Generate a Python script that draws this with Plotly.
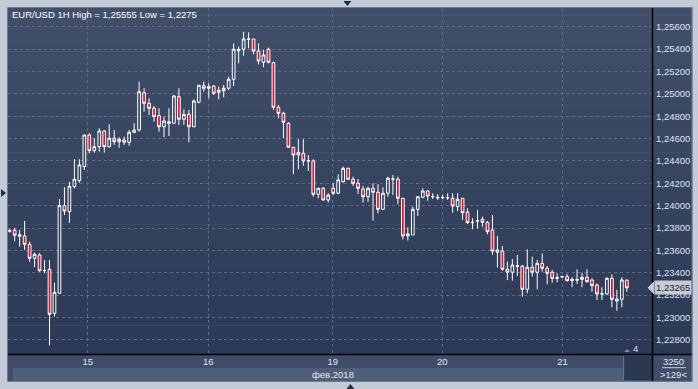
import plotly.graph_objects as go

# ---------------- data (EUR/USD 1H) ----------------
open_ = [1.23772,1.23780,1.23726,1.23729,1.23654,1.23529,1.23559,1.23418,1.23431,1.23037,
         1.23216,1.24000,1.23946,1.24170,1.24223,1.24349,1.24632,1.24492,1.24527,1.24668,
         1.24527,1.24603,1.24572,1.24587,1.24567,1.24656,1.24677,1.25010,1.24916,1.24871,
         1.24805,1.24706,1.24751,1.24737,1.24975,1.24773,1.24817,1.24706,1.24925,1.25073,
         1.25050,1.25070,1.25014,1.25028,1.25050,1.25130,1.25386,1.25399,1.25491,1.25491,
         1.25383,1.25282,1.25399,1.25279,1.24880,1.24826,1.24737,1.24522,1.24453,1.24468,
         1.24400,1.24400,1.24102,1.24155,1.24051,1.24155,1.24111,1.24214,1.24334,1.24236,
         1.24200,1.24149,1.24080,1.24155,1.24120,1.23967,1.24111,1.24240,1.24236,1.24066,
         1.23729,1.23738,1.23967,1.24075,1.24131,1.24080,1.24075,1.24071,1.24073,1.24066,
         1.23991,1.24066,1.23941,1.23848,1.23862,1.23878,1.23851,1.23782,1.23583,1.23594,
         1.23431,1.23404,1.23458,1.23460,1.23252,1.23449,1.23404,1.23484,1.23440,1.23404,
         1.23350,1.23362,1.23365,1.23329,1.23338,1.23341,1.23359,1.23335,1.23290,1.23210,
         1.23210,1.23350,1.23147,1.23162,1.23335]
high = [1.23790,1.23800,1.23782,1.23863,1.23678,1.23579,1.23574,1.23514,1.23514,1.23311,
        1.24060,1.24164,1.24214,1.24415,1.24415,1.24632,1.24647,1.24603,1.24692,1.24677,
        1.24728,1.24677,1.24612,1.24617,1.24677,1.24737,1.25109,1.25050,1.24960,1.24891,
        1.24871,1.24796,1.24871,1.24990,1.25050,1.24862,1.24856,1.24951,1.25077,1.25109,
        1.25095,1.25079,1.25064,1.25079,1.25154,1.25452,1.25422,1.25555,1.25550,1.25491,
        1.25452,1.25392,1.25413,1.25288,1.24900,1.24840,1.24746,1.24522,1.24594,1.24594,
        1.24453,1.24415,1.24161,1.24166,1.24111,1.24200,1.24281,1.24349,1.24340,1.24259,
        1.24239,1.24176,1.24170,1.24200,1.24191,1.24164,1.24259,1.24274,1.24259,1.24066,
        1.23806,1.23991,1.24086,1.24155,1.24140,1.24111,1.24102,1.24095,1.24111,1.24111,
        1.24111,1.24066,1.23976,1.23887,1.23961,1.23901,1.23863,1.23916,1.23729,1.23639,
        1.23499,1.23523,1.23559,1.23469,1.23610,1.23544,1.23514,1.23574,1.23460,1.23425,
        1.23395,1.23372,1.23389,1.23359,1.23431,1.23400,1.23431,1.23350,1.23305,1.23270,
        1.23359,1.23386,1.23246,1.23359,1.23335]
low = [1.23758,1.23681,1.23633,1.23603,1.23499,1.23449,1.23409,1.23395,1.22750,1.23007,
       1.23216,1.23916,1.23848,1.24155,1.24205,1.24319,1.24468,1.24474,1.24483,1.24474,
       1.24518,1.24543,1.24518,1.24543,1.24536,1.24647,1.24662,1.24840,1.24811,1.24751,
       1.24662,1.24612,1.24623,1.24737,1.24722,1.24722,1.24567,1.24701,1.24916,1.25019,
       1.24960,1.24990,1.24951,1.24969,1.25035,1.25070,1.25273,1.25341,1.25408,1.25354,
       1.25264,1.25238,1.25273,1.24856,1.24781,1.24603,1.24518,1.24281,1.24325,1.24357,
       1.24310,1.24080,1.24066,1.24044,1.24027,1.24095,1.24102,1.24205,1.24230,1.24176,
       1.24104,1.24027,1.24035,1.23866,1.23932,1.23961,1.24080,1.24095,1.24012,1.23699,
       1.23687,1.23738,1.23908,1.24066,1.24044,1.24060,1.24051,1.24057,1.24051,1.23937,
       1.23952,1.23872,1.23836,1.23789,1.23797,1.23812,1.23744,1.23559,1.23445,1.23418,
       1.23335,1.23329,1.23371,1.23186,1.23216,1.23365,1.23252,1.23409,1.23297,1.23311,
       1.23315,1.23356,1.23320,1.23270,1.23299,1.23270,1.23311,1.23230,1.23156,1.23156,
       1.23201,1.23091,1.23060,1.23091,1.23230]
close = [1.23776,1.23735,1.23740,1.23654,1.23529,1.23565,1.23418,1.23420,1.23028,1.23225,
         1.24000,1.23952,1.24173,1.24236,1.24364,1.24632,1.24492,1.24527,1.24668,1.24527,
         1.24603,1.24572,1.24594,1.24567,1.24656,1.24677,1.25019,1.24916,1.24871,1.24796,
         1.24706,1.24757,1.24737,1.24981,1.24773,1.24817,1.24706,1.24936,1.25077,1.25050,
         1.25064,1.25005,1.25032,1.25050,1.25130,1.25399,1.25399,1.25491,1.25488,1.25383,
         1.25294,1.25348,1.25282,1.24880,1.24826,1.24746,1.24522,1.24453,1.24477,1.24400,
         1.24402,1.24102,1.24155,1.24051,1.24095,1.24111,1.24230,1.24334,1.24236,1.24200,
         1.24155,1.24080,1.24155,1.24120,1.23967,1.24111,1.24245,1.24238,1.24066,1.23729,
         1.23747,1.23967,1.24080,1.24131,1.24086,1.24082,1.24071,1.24073,1.24071,1.23997,
         1.24057,1.23937,1.23848,1.23851,1.23866,1.23851,1.23767,1.23594,1.23603,1.23431,
         1.23404,1.23469,1.23462,1.23252,1.23449,1.23404,1.23484,1.23440,1.23395,1.23350,
         1.23356,1.23365,1.23329,1.23341,1.23335,1.23359,1.23320,1.23284,1.23210,1.23212,
         1.23350,1.23162,1.23165,1.23335,1.23265]
candle_index = list(range(len(close)))

day_labels = ["15", "16", "19", "20", "21"]
day_tick_pos = [15.7, 39.9, 64.9, 86.9, 111.1]
month_label = "фев.2018"
price_ticks = [1.228, 1.230, 1.232, 1.234, 1.236, 1.238, 1.240, 1.242,
               1.244, 1.246, 1.248, 1.250, 1.252, 1.254, 1.256]
title_text = "EUR/USD 1H High = 1,25555 Low = 1,2275"

# ---------------- geometry helpers (pixels -> paper) ----------------
W, H = 698, 389
L, R, T, B = 8, 655, 8, 354


def px(x):
    return (x - L) / (R - L)


def py(y):
    return (B - y) / (B - T)


FONT = "Liberation Sans, Arial, sans-serif"

fig = go.Figure()
fig.add_trace(go.Candlestick(
    x=candle_index, open=open_, high=high, low=low, close=close,
    increasing=dict(line=dict(color="#ffffff", width=1), fillcolor="rgba(0,0,0,0)"),
    decreasing=dict(line=dict(color="#ffffff", width=1), fillcolor="#e5102d"),
    whiskerwidth=0, hoverinfo="skip", showlegend=False,
))

shapes = []
# gradient background of plot + right axis panel
n = 48
top_c = (65, 79, 106)
bot_c = (43, 57, 86)
for i in range(n):
    t = (i + 0.5) / n
    c = tuple(int(round(top_c[k] + (bot_c[k] - top_c[k]) * t)) for k in range(3))
    y0 = T + (B - T) * i / n
    y1 = T + (B - T) * (i + 1) / n + 0.6
    shapes.append(dict(type="rect", xref="paper", yref="paper", layer="below",
                       x0=px(8), x1=px(695), y0=py(y1), y1=py(y0),
                       fillcolor="rgb(%d,%d,%d)" % c, line=dict(width=0)))
# bottom panel
shapes.append(dict(type="rect", xref="paper", yref="paper", layer="below",
                   x0=px(8), x1=px(695), y0=py(381), y1=py(354),
                   fillcolor="#3f4d68", line=dict(width=0)))
shapes.append(dict(type="rect", xref="paper", yref="paper", layer="below",
                   x0=px(13), x1=px(626), y0=py(381), y1=py(368),
                   fillcolor="#4f5e79", line=dict(width=0)))
shapes.append(dict(type="rect", xref="paper", yref="paper", layer="below",
                   x0=px(627), x1=px(655), y0=py(380), y1=py(356),
                   fillcolor="#2b3852", line=dict(width=0)))
shapes.append(dict(type="line", xref="paper", yref="paper", layer="below",
                   x0=px(626.5), x1=px(626.5), y0=py(380), y1=py(356),
                   line=dict(color="#6f7a8c", width=1)))
# outer border
shapes.append(dict(type="rect", xref="paper", yref="paper", layer="above",
                   x0=px(7.5), x1=px(695.5), y0=py(381.5), y1=py(7.5),
                   line=dict(color="#727b8a", width=1)))
# axis black lines
shapes.append(dict(type="line", xref="paper", yref="paper", layer="above",
                   x0=px(8), x1=px(695), y0=py(354.5), y1=py(354.5),
                   line=dict(color="#000000", width=1.5)))
shapes.append(dict(type="line", xref="paper", yref="paper", layer="above",
                   x0=px(655.5), x1=px(655.5), y0=py(381), y1=py(8),
                   line=dict(color="#000000", width=1.5)))
# separator in bottom-right box
shapes.append(dict(type="line", xref="paper", yref="paper", layer="above",
                   x0=px(665), x1=px(689), y0=py(367.7), y1=py(367.7),
                   line=dict(color="#c9d3e2", width=1)))
# current price pointer (arrow part of the label)
last = close[-1]
dy = 0.00058
shapes.append(dict(type="path", xref="paper", yref="y", layer="above",
                   path="M %f %f L %f %f L %f %f Z" % (px(650.5), last, px(657), last + dy, px(657), last - dy),
                   fillcolor="#c6cbd4", line=dict(width=0)))
# little navigation triangles on the frame
def tri(points, color="#1f2b42"):
    p = "M " + " L ".join("%f %f" % (px(a), py(b)) for a, b in points) + " Z"
    return dict(type="path", xref="paper", yref="paper", layer="above",
                path=p, fillcolor=color, line=dict(width=0))

shapes.append(tri([(345, 1), (353, 1), (349, 6)]))
shapes.append(tri([(1, 189), (1, 197), (6, 193)]))
shapes.append(tri([(348, 389), (356, 389), (352, 384)]))
shapes.append(tri([(627, 352), (633, 352), (630, 349)], "#7d8798"))

fig.update_layout(shapes=shapes)

ann = []
ann.append(dict(text=title_text, x=px(10), y=py(14.5), xref="paper", yref="paper",
                xanchor="left", yanchor="middle", showarrow=False,
                font=dict(family=FONT, size=9.5, color="#ffffff")))
ann.append(dict(text=month_label, x=px(335), y=py(374.5), xref="paper", yref="paper",
                xanchor="center", yanchor="middle", showarrow=False,
                font=dict(family=FONT, size=9.5, color="#e3e9f3")))
ann.append(dict(text="4", x=px(638), y=py(348.5), xref="paper", yref="paper",
                xanchor="center", yanchor="middle", showarrow=False,
                font=dict(family=FONT, size=9.5, color="#d6dfee")))
ann.append(dict(text="3250", x=px(677), y=py(361.5), xref="paper", yref="paper",
                xanchor="center", yanchor="middle", showarrow=False,
                font=dict(family=FONT, size=9.5, color="#dfe6f1")))
ann.append(dict(text="&gt;129&lt;", x=px(677), y=py(374.5), xref="paper", yref="paper",
                xanchor="center", yanchor="middle", showarrow=False,
                font=dict(family=FONT, size=9.5, color="#dfe6f1")))
ann.append(dict(text=("%.5f" % last).replace(".", ","), x=px(657), y=last,
                xref="paper", yref="y", xanchor="left", yanchor="middle",
                showarrow=False, bgcolor="#c6cbd4", borderpad=1,
                font=dict(family=FONT, size=9.5, color="#1b2233")))

fig.update_layout(
    width=W, height=H,
    margin=dict(l=L, r=W - R, t=T, b=H - B, pad=0),
    paper_bgcolor="#c3cbd7",
    plot_bgcolor="rgba(0,0,0,0)",
    separators=", ",
    annotations=ann,
    xaxis=dict(
        range=[-0.34, 129.06],
        tickmode="array", tickvals=day_tick_pos, ticktext=day_labels,
        showgrid=True, gridcolor="#5d6b87", griddash="3px,3px", gridwidth=1,
        zeroline=False, showline=False, ticks="",
        tickfont=dict(family=FONT, size=9.5, color="#dce5f2"),
        rangeslider=dict(visible=False), fixedrange=True,
    ),
    yaxis=dict(
        side="right", range=[1.22673, 1.25768],
        tickmode="array", tickvals=price_ticks,
        ticktext=[("%.5f" % v).replace(".", ",") for v in price_ticks],
        showgrid=True, gridcolor="#5d6b87", griddash="3px,3px", gridwidth=1,
        zeroline=False, showline=False, ticks="",
        ticklabelstandoff=3,
        tickfont=dict(family=FONT, size=9.5, color="#dce5f2"),
        fixedrange=True,
    ),
    boxgap=0.22,
)

fig.write_html("out.html")
